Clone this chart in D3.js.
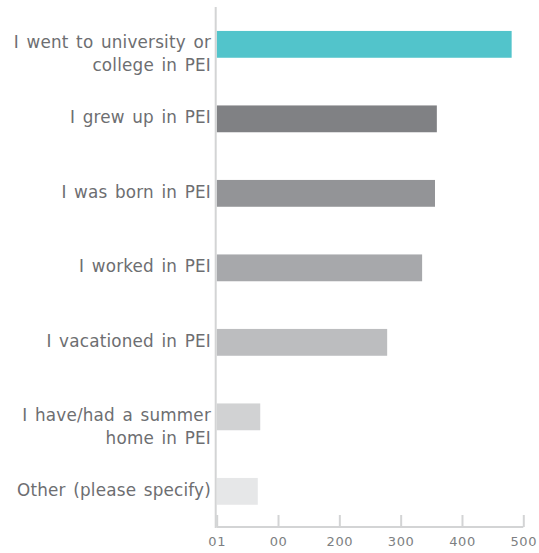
<!DOCTYPE html>
<html>
<head>
<meta charset="utf-8">
<script src="https://cdn.jsdelivr.net/npm/d3@7"></script>
<style>
  body { margin: 0; background: #fff; }
  text { font-family: "DejaVu Sans", sans-serif; }
</style>
</head>
<body>
<div id="app"></div>
<script>
  // data
  const categories = [
    ['I went to university or', 'college in PEI'],
    ['I grew up in PEI'],
    ['I was born in PEI'],
    ['I worked in PEI'],
    ['I vacationed in PEI'],
    ['I have/had a summer', 'home in PEI'],
    ['Other (please specify)']
  ]
  const values = [481, 359, 356, 335, 278, 71, 67]
  const colors = ['#52c4cb', '#808184', '#939497', '#a7a8ab', '#bcbdbf', '#d1d2d3', '#e6e7e8']
  const tickValues = [0, 100, 200, 300, 400, 500]
  const tickLabels = ['01', '00', '200', '300', '400', '500']

  const w = 539, h = 553
  const padLeft = 216.7, padRight = 523.3, padTop = 7.1, padBottom = 528.6

  const svg = d3.select('#app').append('svg')
                .attr('width', w)
                .attr('height', h)

  const xScale = d3.scaleLinear()
                   .domain([0, 500])
                   .range([padLeft, padRight])

  const yScale = d3.scaleBand()
                   .domain(d3.range(categories.length))
                   .range([padTop, padBottom])
                   .paddingInner(0.64)
                   .paddingOuter(0.32)

  // bars
  svg.selectAll('rect.bar')
     .data(values)
     .enter()
     .append('rect')
     .attr('class', 'bar')
     .attr('x', xScale(0))
     .attr('y', (d, i) => yScale(i))
     .attr('width', d => xScale(d) - xScale(0))
     .attr('height', yScale.bandwidth())
     .style('fill', (d, i) => colors[i])

  // x axis
  const xAxis = d3.axisBottom(xScale)
                  .tickValues(tickValues)
                  .tickSize(-12)
                  .tickPadding(8)
                  .tickFormat((d, i) => tickLabels[i])
  const gx = svg.append('g')
                .attr('transform', 'translate(0,' + 527 + ')')
                .call(xAxis)
  gx.select('.domain').attr('stroke', '#d3d4d5').attr('stroke-width', 2)
    .attr('d', 'M' + xScale(0) + ',0H' + xScale(500))
  gx.selectAll('.tick line').attr('stroke', '#d3d4d5').attr('stroke-width', 2)
  gx.selectAll('.tick text')
    .attr('dy', null)
    .attr('y', 19)
    .style('font-size', '13px')
    .style('letter-spacing', '0.6px')
    .style('fill', '#7d7f82')
    .style('font-family', '"DejaVu Sans", sans-serif')

  // y axis line
  svg.append('line')
     .attr('x1', xScale(0) - 1).attr('x2', xScale(0) - 1)
     .attr('y1', padTop).attr('y2', 528)
     .attr('stroke', '#d3d4d5')
     .attr('stroke-width', 2)

  // category labels
  const labels = svg.selectAll('text.cat')
                    .data(categories)
                    .enter()
                    .append('text')
                    .attr('class', 'cat')
                    .attr('text-anchor', 'end')
                    .style('font-size', '16.8px')
                    .style('letter-spacing', '0.2px')
                    .style('word-spacing', '2px')
                    .style('fill', '#6d6e71')
  labels.each(function(lines, i) {
    const cy = yScale(i) + yScale.bandwidth() / 2
    const first = lines.length > 1 ? cy + 4 : cy + 4.5
    d3.select(this).selectAll('tspan')
      .data(lines)
      .enter()
      .append('tspan')
      .attr('x', 211)
      .attr('y', (d, j) => first + j * 23)
      .text(d => d)
  })
</script>
</body>
</html>
